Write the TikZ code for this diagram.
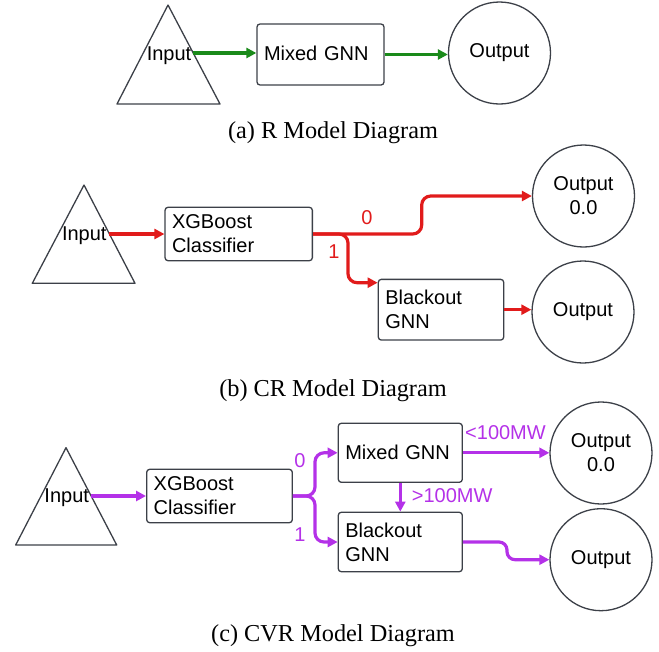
\documentclass[tikz,border=0pt]{standalone}
\usepackage{fontspec}
\setmainfont{Liberation Serif}
\newfontfamily\arialfont{Liberation Sans}
\usetikzlibrary{arrows.meta}
\definecolor{edgegray}{HTML}{3C4048}
\definecolor{rgreen}{HTML}{1A8A1A}
\definecolor{rred}{HTML}{E11B1B}
\definecolor{rpurple}{HTML}{B431E8}
\begin{document}
\begin{tikzpicture}[x=1pt,y=-1pt,
  lbl/.style={font=\arialfont\fontsize{20}{24}\selectfont, inner sep=0pt},
  box/.style={draw=edgegray, line width=1.3pt, rounded corners=3pt, align=left,
    inner xsep=7pt, inner ysep=0pt, font=\arialfont\fontsize{20}{24}\selectfont},
  outc/.style={draw=edgegray, line width=1.3pt, circle, minimum size=102pt,
    inner sep=0pt, align=center, font=\arialfont\fontsize{20}{24}\selectfont},
  tri/.style={draw=edgegray, line width=1.3pt, line join=round},
  flow/.style={line width=3.2pt, -{Triangle[length=10pt,width=10pt]}},
  captext/.style={font=\fontsize{24.3}{29}\selectfont, anchor=base, inner sep=0pt}
]
\useasboundingbox (0,0) rectangle (659,651);

% ---------------- (a) ----------------
\draw[tri] (168,5) -- (220,104) -- (117,104) -- cycle;
\node[lbl] (inA) at (169,56) {Input};
\coordinate (triA) at (193,53);
\node[box, minimum height=61pt, text width=113pt] (mixA) at (320.5,54.5) {\raisebox{2pt}{Mixed GNN}};
\node[outc] (oA) at (499.5,53) {Output};
\draw[flow, rgreen] (triA) -- (triA -| mixA.west);
\draw[flow, rgreen] (mixA.east) -- (mixA.east -| oA.west);
\node[captext] (capA) at (333,138.7) {(a) R Model Diagram};

% ---------------- (b) ----------------
\draw[tri] (84,185) -- (135,283.3) -- (32.3,283.3) -- cycle;
\node[lbl] (inB) at (84.3,236) {Input};
\coordinate (triB) at (109.4,234);
\node[box, minimum height=53.4pt, text width=133.3pt] (xgbB) at (238.7,234) {XGBoost\\Classifier};
\node[box, minimum height=60.7pt, text width=111.4pt] (blkB) at (441,309.7) {Blackout\\GNN};
\node[outc] (oTopB) at (583.5,196) {Output\\0.0};
\node[outc] (oBotB) at (583,312) {Output};
\draw[flow, rred] (triB) -- (triB -| xgbB.west);
\draw[flow, rred, rounded corners=9pt] (xgbB.east) -| (421.7,196) -- (oTopB.west);
\draw[flow, rred, rounded corners=9pt] (xgbB.east) -- (348,234) |- ([yshift=-4pt]blkB.north west);
\draw[flow, rred] (blkB.east) -- (blkB.east -| oBotB.west);
\node[lbl, text=rred] (zeroB) at (367,217.7) {0};
\node[lbl, text=rred] (oneB) at (334,251.7) {1};
\node[captext] (capB) at (333,396) {(b) CR Model Diagram};

% ---------------- (c) ----------------
\draw[tri] (66,447.7) -- (116.7,545) -- (15.7,545) -- cycle;
\node[lbl] (inC) at (66.7,498) {Input};
\coordinate (triC) at (91.4,496);
\node[box, minimum height=53.4pt, text width=131.6pt] (xgbC) at (219.5,496) {XGBoost\\Classifier};
\node[box, minimum height=59pt, text width=110pt] (mixC) at (400.3,452.8) {Mixed GNN};
\node[box, minimum height=59.4pt, text width=110pt] (blkC) at (400.3,542) {Blackout\\GNN};
\node[outc] (oTopC) at (601,453) {Output\\0.0};
\node[outc] (oBotC) at (601,559.7) {Output};
\draw[flow, rpurple] (triC) -- (triC -| xgbC.west);
\draw[flow, rpurple, rounded corners=9pt] (xgbC.east) -- (315,496) |- (mixC.west);
\draw[flow, rpurple, rounded corners=9pt] (xgbC.east) -- (315,496) |- (blkC.west);
\draw[flow, rpurple] (mixC.south) -- (blkC.north);
\draw[flow, rpurple] (mixC.east) -- (mixC.east -| oTopC.west);
\draw[flow, rpurple, rounded corners=8pt] (blkC.east) -| (507,559.7) -- (oBotC.west);
\node[lbl, text=rpurple] (zeroC) at (300,461) {0};
\node[lbl, text=rpurple] (oneC) at (300,535) {1};
\node[lbl, text=rpurple, anchor=west] (ltC) at (465,432.3) {<100MW};
\node[lbl, text=rpurple, anchor=west] (gtC) at (411.7,495.7) {>100MW};
\node[captext] (capC) at (333,641.7) {(c) CVR Model Diagram};
\end{tikzpicture}
\end{document}
